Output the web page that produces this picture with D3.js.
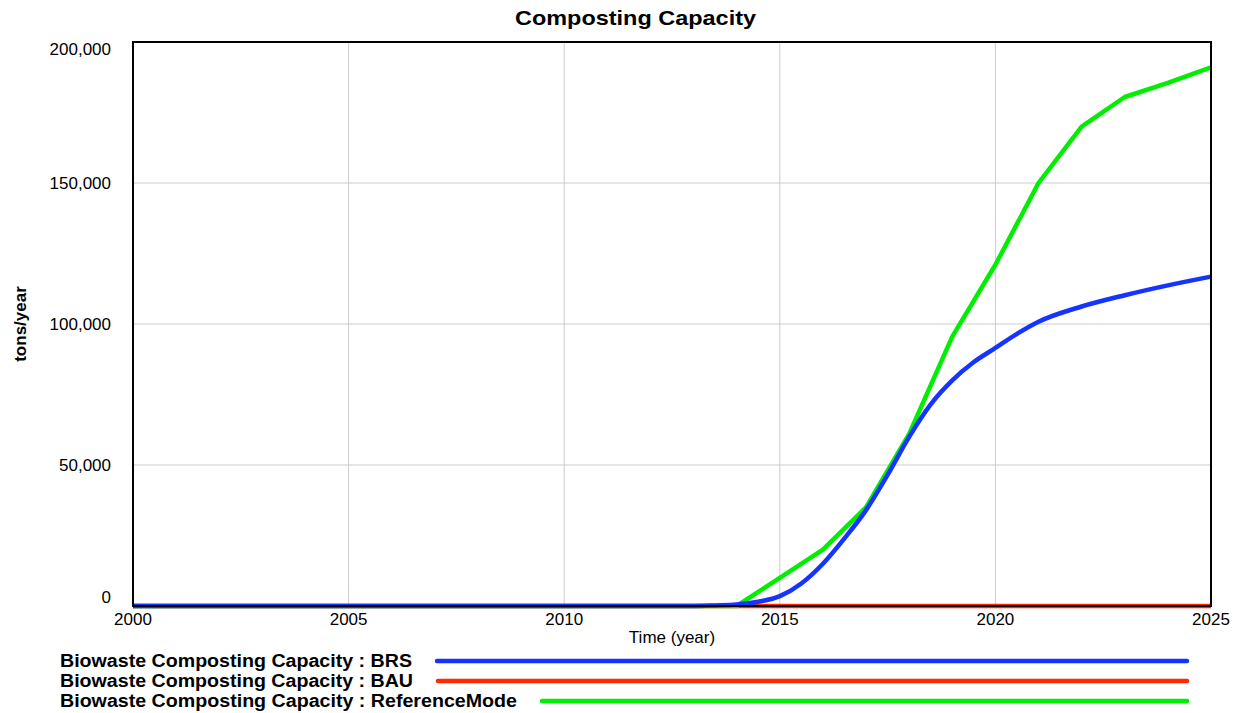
<!DOCTYPE html>
<html>
<head>
<meta charset="utf-8">
<script src="https://cdn.jsdelivr.net/npm/d3@7"></script>
<style>
  body { margin: 0; background: #fff; }
  svg { display: block; font-family: "Liberation Sans", Arial, Helvetica, sans-serif; }
</style>
</head>
<body>
<div class="container"></div>
<script>
'use strict';

// Chart data
const seriesNames = ["Biowaste Composting Capacity : BRS",
                     "Biowaste Composting Capacity : BAU",
                     "Biowaste Composting Capacity : ReferenceMode"];
const seriesColors = ["#1634ff", "#ff2a00", "#00ee00"];

const brsYears = [2000, 2013, 2013.5, 2014, 2014.5, 2015, 2015.5, 2016, 2016.5, 2017, 2017.5,
                  2018, 2018.5, 2019, 2019.5, 2020, 2020.5, 2021, 2022, 2023, 2024, 2025];
const brsValues = [0, 0, 200, 500, 1500, 3500, 8000, 15000, 24000, 34000, 46500,
                   60000, 71500, 80000, 86500, 91500, 96500, 100800, 106200, 110200, 113700, 116800];

const bauYears = [2000, 2025];
const bauValues = [0, 0];

const refYears = [2000, 2014, 2015, 2016, 2017, 2018, 2019, 2020, 2021, 2022, 2023, 2024, 2025];
const refValues = [0, 0, 10000, 20000, 35000, 61000, 95500, 121000, 150000, 170000, 180500, 185500, 191000];

const xTicks = [2000, 2005, 2010, 2015, 2020, 2025];
const yTicks = [0, 50000, 100000, 150000, 200000];

// Layout
const width = 1238;
const height = 713;
const margin = {top: 42, right: 27, bottom: 107, left: 133};

const svg = d3.select("div.container").append("svg")
    .attr("width", width)
    .attr("height", height);

const x = d3.scaleLinear().domain([2000, 2025]).range([margin.left, width - margin.right]);
const y = d3.scaleLinear().domain([0, 200000]).range([height - margin.bottom, margin.top]);

// Title (reference font runs wider, so stretch to its width)
svg.append("text")
    .attr("x", 515).attr("y", 25)
    .attr("textLength", 241)
    .attr("lengthAdjust", "spacingAndGlyphs")
    .style("font-size", "21px").style("font-weight", "bold")
    .text("Composting Capacity");

// Grid lines
svg.append("g").selectAll("line")
    .data(xTicks.slice(1, -1))
    .join("line")
    .attr("x1", d => x(d)).attr("x2", d => x(d))
    .attr("y1", y(0)).attr("y2", y(200000))
    .attr("stroke", "#cccccc").attr("stroke-width", 1);

svg.append("g").selectAll("line")
    .data(yTicks.slice(1, -1))
    .join("line")
    .attr("x1", x(2000)).attr("x2", x(2025))
    .attr("y1", d => y(d)).attr("y2", d => y(d))
    .attr("stroke", "#cccccc").attr("stroke-width", 1);

// Tick labels
const fmt = d3.format(",");
svg.append("g").selectAll("text")
    .data(yTicks)
    .join("text")
    .attr("x", margin.left - 22)
    .attr("y", d => Math.min(Math.max(y(d), margin.top + 7), y(0) - 9))
    .attr("dy", "0.35em")
    .attr("text-anchor", "end")
    .style("font-size", "17px")
    .text(d => fmt(d));

svg.append("g").selectAll("text")
    .data(xTicks)
    .join("text")
    .attr("x", d => x(d))
    .attr("y", y(0) + 19)
    .attr("text-anchor", "middle")
    .style("font-size", "17px")
    .text(d => d);

// Axis titles
svg.append("text")
    .attr("x", 672).attr("y", 643)
    .attr("text-anchor", "middle")
    .style("font-size", "17px")
    .text("Time (year)");

svg.append("text")
    .attr("transform", "translate(26," + ((y(0) + y(200000)) / 2) + ") rotate(-90)")
    .attr("text-anchor", "middle")
    .style("font-size", "17px").style("font-weight", "bold")
    .text("tons/year");

// Lines
const line = d3.line()
    .x(d => x(d[0]))
    .y(d => y(d[1]));

const series = [
  {color: seriesColors[1], pts: d3.zip(bauYears, bauValues), curve: d3.curveLinear},
  {color: seriesColors[2], pts: d3.zip(refYears, refValues), curve: d3.curveLinear},
  {color: seriesColors[0], pts: d3.zip(brsYears, brsValues), curve: d3.curveMonotoneX}
];

svg.append("g").selectAll("path")
    .data(series)
    .join("path")
    .attr("d", d => line.curve(d.curve)(d.pts))
    .attr("fill", "none")
    .attr("stroke", d => d.color)
    .attr("stroke-width", 4.5)
    .attr("stroke-linejoin", "round");

// Plot frame
svg.append("rect")
    .attr("x", x(2000)).attr("y", y(200000))
    .attr("width", x(2025) - x(2000))
    .attr("height", y(0) - y(200000))
    .attr("fill", "none")
    .attr("stroke", "#000").attr("stroke-width", 2);

// Legend
const legendY = [661, 681, 701];
const legendTextWidth = [352, 353, 457];
seriesNames.forEach(function (name, i) {
  svg.append("text")
      .attr("x", 60).attr("y", legendY[i])
      .attr("dy", "0.35em")
      .attr("textLength", legendTextWidth[i])
      .attr("lengthAdjust", "spacingAndGlyphs")
      .style("font-size", "18px").style("font-weight", "bold")
      .text(name);
  svg.append("line")
      .attr("x1", 60 + legendTextWidth[i] + 25).attr("x2", 1187)
      .attr("y1", legendY[i]).attr("y2", legendY[i])
      .attr("stroke", seriesColors[i])
      .attr("stroke-width", 4.5)
      .attr("stroke-linecap", "round");
});
</script>
</body>
</html>
